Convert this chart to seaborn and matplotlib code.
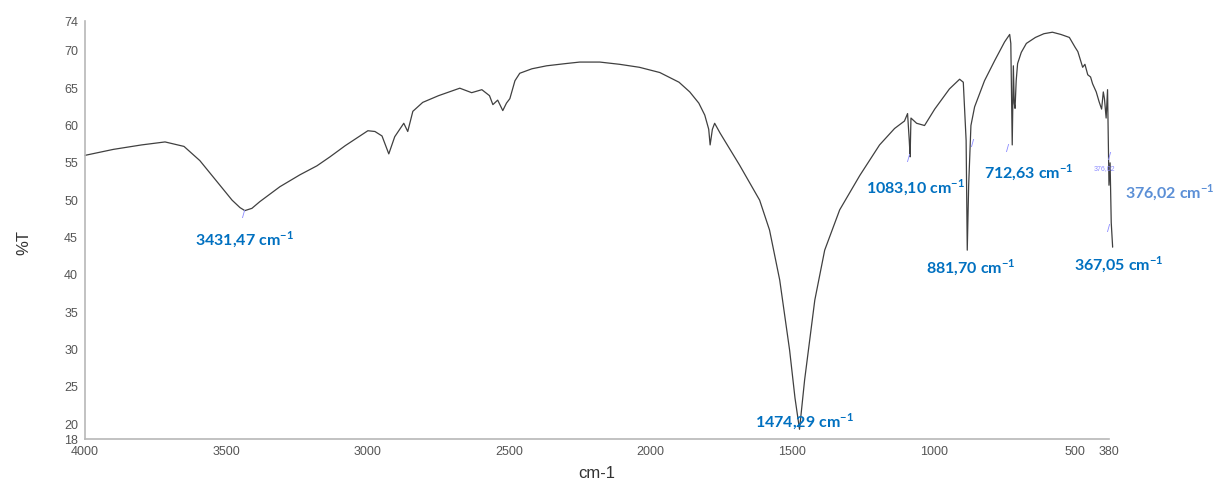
import numpy as np
import pandas as pd
import seaborn as sns
import matplotlib.pyplot as plt

# Espectro FTIR (número de onda en cm-1, %T)
wavenumber = [4000, 3900, 3800, 3717, 3650, 3594, 3523, 3480, 3452, 3435, 3410, 3382,
              3311, 3240, 3180, 3134, 3080, 3028, 3000, 2975, 2950, 2926, 2905, 2873,
              2859, 2841, 2806, 2750, 2675, 2633, 2597, 2570, 2558, 2541, 2523, 2510,
              2498, 2480, 2463, 2420, 2368, 2300, 2251, 2180, 2110, 2040, 1968, 1900,
              1862, 1830, 1809, 1795, 1790, 1782, 1774, 1755, 1739, 1686, 1615, 1580,
              1544, 1509, 1490, 1474, 1456, 1420, 1385, 1332, 1261, 1191, 1138, 1103,
              1092, 1086, 1083, 1080, 1060, 1032, 996, 944, 908, 895, 885, 881,
              876, 868, 855, 820, 784, 749, 731, 727, 722, 718, 715, 712,
              708, 703, 690, 672, 640, 610, 580, 550, 520, 500, 490, 473,
              465, 455, 445, 438, 425, 415, 406, 400, 396, 390, 385, 380,
              376, 372, 367]
transmittance = [56.0, 56.8, 57.4, 57.8, 57.2, 55.3, 52.0, 50.0, 49.0, 48.6, 48.9, 49.8,
                 51.8, 53.4, 54.6, 55.8, 57.3, 58.6, 59.3, 59.2, 58.6, 56.2, 58.5, 60.3,
                 59.2, 61.9, 63.1, 64.0, 65.0, 64.4, 64.8, 64.0, 62.8, 63.4, 62.0, 63.0,
                 63.6, 66.0, 67.0, 67.6, 68.0, 68.3, 68.5, 68.5, 68.2, 67.8, 67.1, 65.8,
                 64.5, 63.0, 61.4, 59.5, 57.4, 59.5, 60.3, 59.0, 58.0, 54.7, 50.0, 46.0,
                 39.3, 29.9, 23.5, 19.3, 25.9, 36.6, 43.3, 48.7, 53.3, 57.4, 59.6, 60.6,
                 61.6, 58.0, 55.8, 61.0, 60.3, 60.0, 62.2, 64.9, 66.2, 65.8, 58.0, 43.3,
                 52.0, 60.0, 62.5, 66.0, 68.7, 71.2, 72.2, 71.0, 57.4, 68.0, 63.0, 62.3,
                 66.0, 68.3, 69.8, 71.0, 71.8, 72.3, 72.5, 72.2, 71.8, 70.5, 69.9, 67.8,
                 68.2, 66.8, 66.5, 65.6, 64.5, 63.2, 62.2, 64.5, 63.6, 61.0, 64.8, 52.0,
                 55.0, 47.0, 43.7]

# Etiquetas de picos: texto, posición (cm-1, %T)
peak_labels = ["3431,47", "1474,29", "1083,10", "881,70", "712,63", "376,02", "367,05"]
label_x = [3435, 1455, 1065, 870, 665, 165, 345]
label_y = [44.6, 20.3, 51.6, 40.9, 53.7, 51.0, 41.3]
label_colors = ["#0070c0", "#0070c0", "#0070c0", "#0070c0", "#0070c0", "#5b8fd6", "#0070c0"]

# Marcas del software (trazos morados)
mark_x = [3440, 1088, 740, 380, 378, 862]
mark_y = [48.0, 55.5, 56.8, 46.2, 55.8, 57.5]

xticks = [4000, 3500, 3000, 2500, 2000, 1500, 1000, 500, 380]
yticks = [18, 20, 25, 30, 35, 40, 45, 50, 55, 60, 65, 70, 74]

df = pd.DataFrame({"cm-1": wavenumber, "%T": transmittance})

sns.set_style("white")
plt.rcParams["font.family"] = ["Liberation Sans", "DejaVu Sans"]
plt.rcParams["mathtext.fontset"] = "custom"
plt.rcParams["mathtext.rm"] = "Lato"
plt.rcParams["mathtext.bf"] = "Lato:bold"

fig = plt.figure(figsize=(12.3, 4.82), dpi=100)
ax = fig.add_axes([0.0691, 0.0892, 0.8325, 0.8672])

sns.lineplot(data=df, x="cm-1", y="%T", estimator=None, sort=False,
             color="#404040", linewidth=0.9, ax=ax, clip_on=False)

ax.set_xlim(4000, 380)
ax.set_ylim(18, 74)
ax.set_xticks(xticks)
ax.set_yticks(yticks)
ax.tick_params(axis="both", labelsize=9, labelcolor="#555555", color="#b0b0b0",
               length=4, width=1, direction="out", pad=1)
for s in ["top", "right"]:
    ax.spines[s].set_visible(False)
for s in ["left", "bottom"]:
    ax.spines[s].set_color("#b8b8b8")
    ax.spines[s].set_linewidth(1.2)

ax.set_xlabel("cm-1", fontsize=12, color="#333333")
ax.set_ylabel("%T", fontsize=12, color="#333333")
ax.xaxis.set_label_coords(0.5, -0.065)
ax.yaxis.set_label_coords(-0.052, 0.47)

for mx, my in zip(mark_x, mark_y):
    ax.text(mx, my, "/", color="#8c8cff", fontsize=8, ha="center", va="center",
            clip_on=False)
ax.text(395, 54.2, "376,02", color="#8c8cff", fontsize=5, ha="center", va="center")

for txt, lx, ly, c in zip(peak_labels, label_x, label_y, label_colors):
    ax.text(lx, ly, txt + r" cm$^{\mathbf{-1}}$", color=c, fontsize=11.5,
            fontweight="bold", family=["Lato", "DejaVu Sans"],
            ha="center", va="center", clip_on=False)

fig.savefig("out.png", dpi=100)
